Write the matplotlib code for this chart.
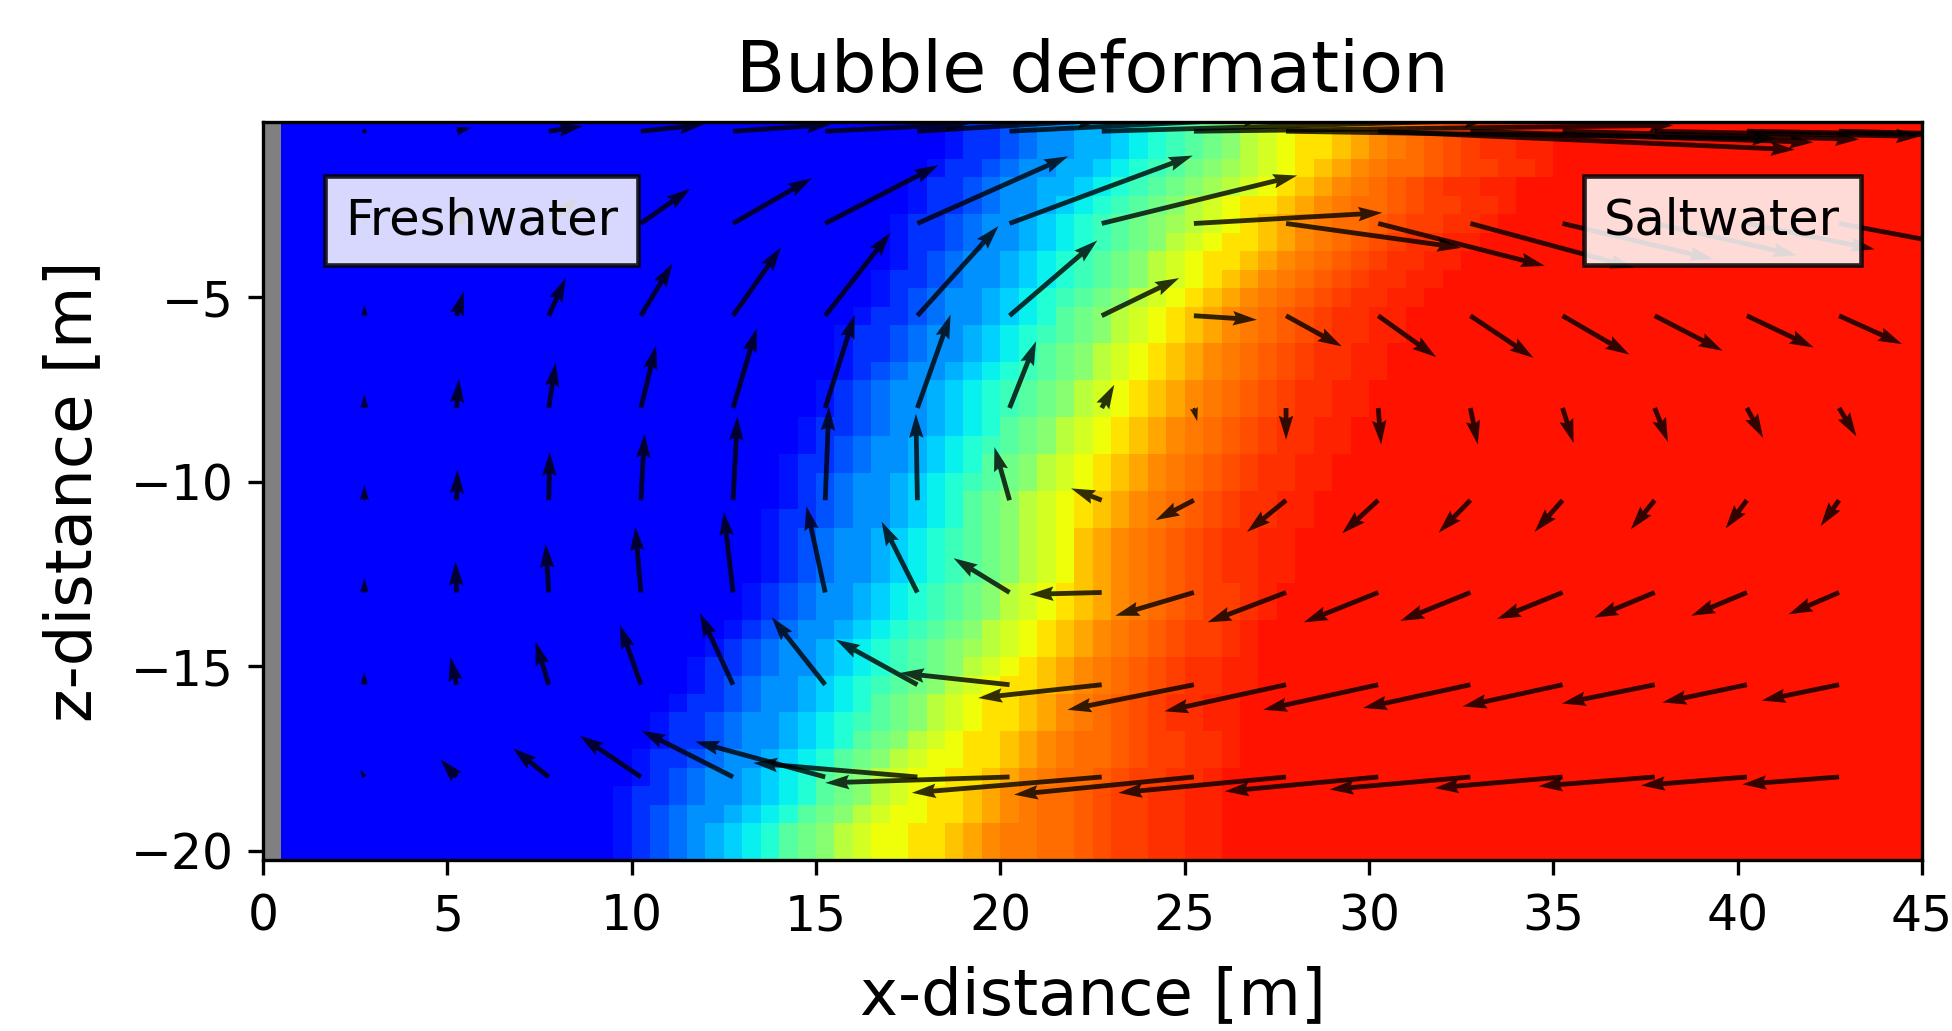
import numpy as np
import matplotlib
matplotlib.use('Agg')
import matplotlib.pyplot as plt

# salinity field, one row per 0.5 m of depth, letters a (fresh) .. z (salt), capitals are half steps
# left of first_col is fresh, right of the string is salt
first_col = [36, 36, 35, 34, 34, 33, 33, 33, 32, 32,
             31, 30, 30, 30, 29, 29, 28, 28, 27, 27,
             27, 26, 26, 26, 26, 25, 25, 24, 23, 22,
             22, 21, 20, 20, 19, 19, 18, 18, 18, 18]
row_values = [
    'abccdeffgghijklmnpqrsstuvVwWxXyyYY',
    'abccdeffgghijklmnpqrsstuvVwWxXyyYY',
    'abccdeffgghijklmnopqrstuvVwwWxXXyyY',
    'abccdeffgghijklmnopqrstuvVwWxXyyYY',
    'abccdeffghijklmnpqrsstuvVwwWxXXyyY',
    'abccdeffghijklmnopqrstuvVwwWxXXyyY',
    'abccdeffghijklmnpqrsstuvVwWxXyyYY',
    'abcdeffghijklmnpqrsstuvVwWxXyyYY',
    'abccdeffghijklmnpqrstuvVwWxXyyYY',
    'abcdeffghijklmnpqrstuvVwWxXyyYY',
    'abccdeffghijlmnpqrstuvVwWxXyyYY',
    'abccdeffghijklmnpqrstuvVwWxXyyYY',
    'abccdeffghijlmnpqrstuvVwWxXyyYY',
    'abcdeffghijklmnpqrstuvVwWxXyyYY',
    'abcdeffghijklmnpqrstuvVwWxXyyYY',
    'abcdeffghijklmnpqrstuvVwWxXyyYY',
    'abccdeffghijlmnpqrstuvVwWxXyyYY',
    'abcdeffghijklmnpqrstuvVwWxXyyYY',
    'abccdeffghijlmnpqrstuvVwWxXyyYY',
    'abcdeffghijklmnpqrstuvVwWxXyyYY',
    'abcdeffghijlmnpqrstuvVwWxXyyYY',
    'abccdeffghijlmnpqrstuvVwWxXyyYY',
    'abcdeffghijklmnpqrtuvVwWxXyyYY',
    'abcdeffghijklmnpqrtuvVwWxXyyYY',
    'abcdeffghijklmnpqrtuvVwWxXyyYY',
    'abcdeffghijklmnpqrstuvVwWxXXyY',
    'abcdeffghijklmnpqrstuvVwWxXXyY',
    'abcdeffghijklmnpqrstuvVwWxXXyY',
    'abcdeffghijklmnopqrstuvVwWxXXyY',
    'abccdeffghijklmnpqrstuvVwWxXyyYY',
    'abcdeffghijklmnpqrsstuvVwWxXyyYY',
    'abccdeffghijlmnpqrsstuvVwWxXyyYY',
    'abccdeffghijklmnpqrsstuvVwWxXyyYY',
    'abccdeffghijlmnpqrsstuvVwwWxXXyyY',
    'abccdeffghijlmnpqrrsstuvVwwWxXXyyY',
    'abcdeffghijlmnpqrrsstuvVwwWxXXyyY',
    'abccdeffghijlmnpqrsstuvVwwWxXXyyYY',
    'abcdeffghijlmnpqrrsstuvVwwWxXXyyYY',
    'abcdefghijlmnpqrrsstuvVVwwWxXXyyYY',
    'abcdefghijlmnpqrrsstuvVVwwWxXXyyYY',
]

# velocity arrows, tail positions and displacement in metres
arrow_x = [2.75, 5.25, 7.75, 10.25, 12.75, 15.25, 17.75, 20.25, 22.75,
           25.25, 27.75, 30.25, 32.75, 35.25, 37.75, 40.25, 42.75]
arrow_z = [-0.5, -3, -5.5, -8, -10.5, -13, -15.5, -18]
arrow_u = [
    [.02, .4, .93, 1.7, 2.65, 3.9, 5, 7, 10.5, 13, 13.3, 11.3, 9.3, 8.05, 7.2, 5.5, 4.3],
    [.05, .4, .8, 1.34, 2.14, 3.07, 4.09, 4.97, 5.3, 5.11, 4.75, 4.52, 4.44, 4.1, 3.86, 3.47, 3.2],
    [0, .2, .46, .86, 1.3, 1.77, 2.2, 2.38, 2.1, 1.71, 1.51, 1.57, 1.71, 1.81, 1.84, 1.81, 1.71],
    [0, .07, .19, .41, .64, .8, .9, .72, .34, .09, 0, .08, .2, .3, .36, .44, .47],
    [0, .03, .03, .1, .12, .1, -.04, -.41, -.83, -1.04, -1.06, -.98, -.86, -.76, -.65, -.58, -.5],
    [0, -.03, -.08, -.15, -.25, -.51, -.97, -1.52, -1.96, -2.13, -2.13, -2.02, -1.9, -1.78, -1.64, -1.51, -1.37],
    [-.01, -.17, -.36, -.57, -.9, -1.45, -2.21, -2.97, -3.35, -3.43, -3.3, -3.12, -2.91, -2.71, -2.52, -2.29, -2.1],
    [-.11, -.44, -.97, -1.66, -2.49, -3.53, -4.45, -5, -5.15, -4.88, -4.55, -4.16, -3.82, -3.47, -3.15, -2.87, -2.62],
]
arrow_v = [
    [0, .1, .14, .18, .18, .2, .3, .35, .3, .16, -.2, -.5, -.3, -.22, -.14, -.1, -.1],
    [.25, .55, .7, .94, 1.23, 1.58, 1.82, 1.84, 1.3, .29, -.66, -1.15, -1.2, -.97, -.86, -.7, -.6],
    [.3, .66, 1.02, 1.42, 1.85, 2.25, 2.43, 2.04, 1.02, -.11, -.83, -1.12, -1.14, -1.05, -.95, -.86, -.77],
    [.36, .79, 1.23, 1.69, 2.16, 2.53, 2.53, 1.81, .63, -.36, -.86, -.99, -.99, -.95, -.92, -.81, -.77],
    [.41, .83, 1.31, 1.8, 2.27, 2.54, 2.34, 1.44, .32, -.54, -.86, -.9, -.88, -.86, -.79, -.77, -.7],
    [.39, .84, 1.32, 1.78, 2.19, 2.34, 1.92, .93, -.05, -.63, -.81, -.81, -.77, -.72, -.68, -.63, -.59],
    [.34, .75, 1.17, 1.62, 1.94, 1.83, 1.22, .32, -.36, -.68, -.72, -.68, -.63, -.59, -.51, -.48, -.43],
    [.2, .48, .78, 1.12, 1.26, .96, .38, -.16, -.43, -.48, -.43, -.39, -.34, -.3, -.25, -.23, -.2],
]

# build the field from the rows, first column is the wall
field = np.full((40, 90), 25.0)
for i in range(40):
    start = first_col[i]
    field[i, :start] = 0
    for j, letter in enumerate(row_values[i]):
        field[i, start + j] = ord(letter.lower()) - ord('a') + (0.5 if letter.isupper() else 0)
field = np.ma.masked_where(np.arange(90)[None, :].repeat(40, axis=0) == 0, field)

x_edges = np.arange(91) * 0.5
z_edges = -0.25 - np.arange(41) * 0.5

cmap = plt.get_cmap('jet').copy()
cmap.set_bad('#808080')

fig = plt.figure(figsize=(1952 / 300, 1031 / 300), dpi=300)
ax = fig.add_axes([263 / 1952, (1031 - 860) / 1031, 1659 / 1952, 738 / 1031])

# colour limits set so that a is pure blue and z the slightly orange red
ax.pcolormesh(x_edges, z_edges, field, cmap=cmap, vmin=-0.11 / 0.0312, vmax=(1 - 0.11) / 0.0312)

X, Z = np.meshgrid(arrow_x, arrow_z)
ax.quiver(X, Z, np.array(arrow_u), np.array(arrow_v), angles='xy', scale_units='xy', scale=1,
          width=0.0029, color='k', alpha=0.8)

ax.set_xlim(0, 45)
ax.set_ylim(-20.25, -0.25)
ax.set_xticks(np.arange(0, 46, 5))
ax.set_yticks([-5, -10, -15, -20])
ax.tick_params(labelsize=11.7)
ax.tick_params(axis='x', pad=4.2)
ax.tick_params(axis='y', pad=3.6)
ax.set_xlabel('x-distance [m]', fontsize=15.4, labelpad=6)
ax.set_ylabel('z-distance [m]', fontsize=15.4, labelpad=6.2)
ax.set_title('Bubble deformation', fontsize=17.25, pad=7.2)

box = dict(boxstyle='square,pad=0.41', facecolor='white', edgecolor='k', alpha=0.85, linewidth=1.1)
ax.text(5.93, -2.92, 'Freshwater', fontsize=11.9, ha='center', va='center', bbox=box)
ax.text(39.58, -2.92, 'Saltwater', fontsize=11.9, ha='center', va='center', bbox=box)

fig.savefig('out.png', dpi=300)
